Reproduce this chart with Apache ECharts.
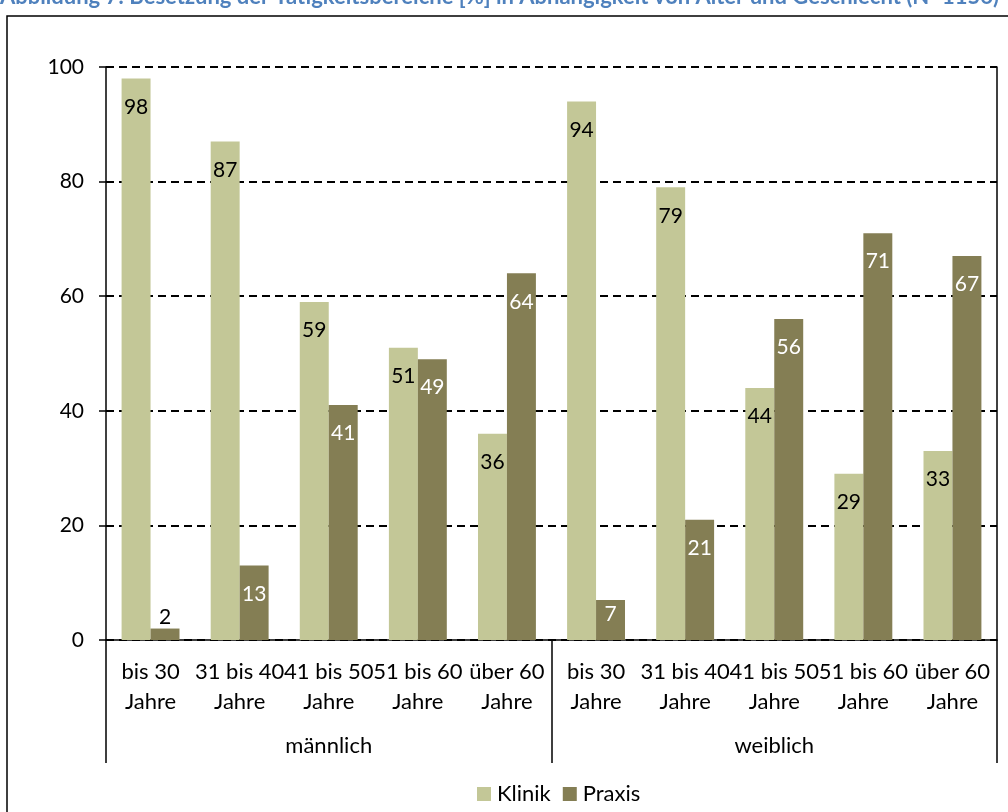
<!DOCTYPE html>
<html>
<head>
<meta charset="utf-8">
<style>
  html, body { margin: 0; padding: 0; background: #fff; }
  #chart { width: 1008px; height: 812px; }
</style>
<script src="https://cdn.jsdelivr.net/npm/echarts@6/dist/echarts.min.js"></script>
</head>
<body>
<div id="chart"></div>
<script>
// Age groups (repeated for both sexes) and the two sex groups
const ageGroups = ['bis 30\nJahre', '31 bis 40\nJahre', '41 bis 50\nJahre', '51 bis 60\nJahre', 'über 60\nJahre'];
const sexGroups = ['männlich', 'weiblich'];
const categories = sexGroups.flatMap(() => ageGroups);

// Share [%] per field of work
const klinik = [98, 87, 59, 51, 36, 94, 79, 44, 29, 33];
const praxis = [2, 13, 41, 49, 64, 7, 21, 56, 71, 67];

const yTicks = [0, 20, 40, 60, 80, 100];

const titleText = 'Abbildung 7: Besetzung der Tätigkeitsbereiche [%] in Abhängigkeit von Alter und Geschlecht (N=1156)';

const FONT = 'Lato';
const C_KLINIK = '#C3C797';
const C_PRAXIS = '#847E54';

const chart = echarts.init(document.getElementById('chart'), null, { renderer: 'canvas' });

// Label placement: inside the top of the bar; very short bars get it above or nearer the top
function praxisData() {
  return praxis.map((v, i) => {
    const d = { value: v };
    if (v < 5) {
      d.label = { position: 'top', distance: 1, color: '#000' };
    } else if (v < 10) {
      d.label = { distance: 4 };
    }
    return d;
  });
}

const option = {
  animation: false,
  backgroundColor: '#fff',
  textStyle: { fontFamily: FONT },
  grid: { left: 106, right: 11, top: 67, bottom: 172, containLabel: false },
  legend: {
    data: ['Klinik', 'Praxis'],
    left: 472,
    top: 778,
    icon: 'rect',
    itemWidth: 14,
    itemHeight: 14,
    itemGap: 12,
    textStyle: { fontFamily: FONT, fontSize: 22, color: '#000', padding: [0, 0, 0, 1] }
  },
  xAxis: [
    {
      type: 'category',
      data: categories,
      position: 'bottom',
      axisLine: { show: true, lineStyle: { color: '#000', width: 1.5 } },
      axisTick: { show: false },
      axisLabel: {
        interval: 0,
        margin: 17,
        fontFamily: FONT,
        fontSize: 22,
        lineHeight: 30,
        color: '#000'
      }
    },
    {
      type: 'category',
      data: sexGroups,
      position: 'bottom',
      axisLine: { show: false },
      axisTick: { show: true, length: 123, lineStyle: { color: '#000', width: 1.5 } },
      axisLabel: {
        interval: 0,
        margin: 95,
        fontFamily: FONT,
        fontSize: 22,
        lineHeight: 22,
        color: '#000'
      }
    }
  ],
  yAxis: [
    {
      type: 'value',
      min: 0,
      max: 100,
      interval: 20,
      axisLine: { show: true, lineStyle: { color: '#000', width: 1.5 } },
      axisTick: { show: true, length: 7, lineStyle: { color: '#000', width: 1.5 } },
      axisLabel: {
        margin: 22,
        fontFamily: FONT,
        fontSize: 21,
        color: '#000',
        formatter: v => (yTicks.includes(v) ? String(v) : '')
      },
      splitLine: { show: true, lineStyle: { color: '#000', width: 1.8, type: [8, 5] } }
    },
    {
      type: 'value',
      position: 'right',
      min: 0,
      max: 100,
      interval: 20,
      axisLine: { show: true, lineStyle: { color: '#000', width: 1.5 } },
      axisTick: { show: false },
      axisLabel: { show: false },
      splitLine: { show: false }
    }
  ],
  series: [
    {
      name: 'Klinik',
      type: 'bar',
      data: klinik,
      itemStyle: { color: C_KLINIK },
      barGap: '0%',
      barCategoryGap: '35%',
      label: {
        show: true,
        position: 'insideTop',
        distance: 18,
        fontFamily: FONT,
        fontSize: 21,
        color: '#000'
      }
    },
    {
      name: 'Praxis',
      type: 'bar',
      data: praxisData(),
      itemStyle: { color: C_PRAXIS },
      barGap: '0%',
      barCategoryGap: '35%',
      label: {
        show: true,
        position: 'insideTop',
        distance: 18,
        fontFamily: FONT,
        fontSize: 21,
        color: '#fff'
      }
    }
  ],
  graphic: [
    {
      type: 'rect',
      shape: { x: 7, y: 16, width: 1100, height: 900 },
      style: { fill: 'none', stroke: '#000', lineWidth: 1.5 },
      silent: true,
      z: -1
    },
    {
      type: 'text',
      x: 0,
      y: 8,
      style: {
        text: titleText,
        fontFamily: FONT,
        fontWeight: 'bold',
        fontSize: 22,
        fill: '#4F81BD',
        verticalAlign: 'bottom'
      },
      silent: true
    }
  ]
};

chart.setOption(option);
</script>
</body>
</html>
